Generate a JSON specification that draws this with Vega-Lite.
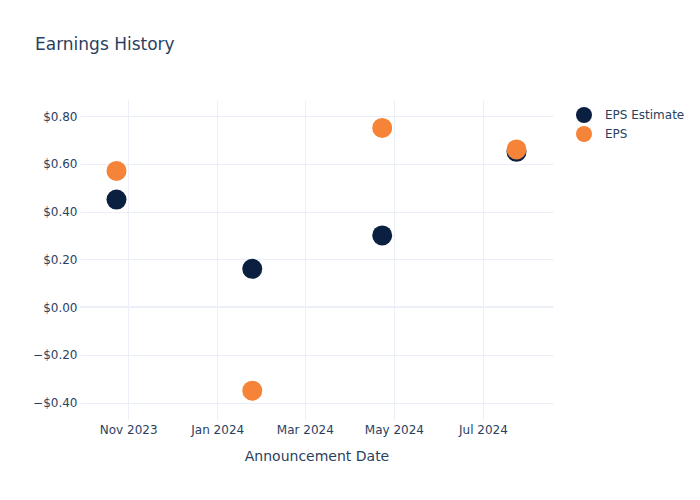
{
  "$schema": "https://vega.github.io/schema/vega-lite/v6.json",
  "autosize": {"type": "none"},
  "width": 473,
  "height": 320,
  "padding": {"left": 80, "top": 100, "right": 147, "bottom": 80},
  "background": "white",
  "config": {
    "font": "DejaVu Sans",
    "view": {"stroke": null},
    "axis": {"labelColor": "#2a3f5f", "titleColor": "#2a3f5f", "labelFontSize": 12, "titleFontSize": 14, "titleFontWeight": "normal", "gridColor": "#EBF0F8", "gridWidth": 1, "gridOpacity": 1, "domain": false, "ticks": false}
  },
  "title": {"text": "Earnings History", "anchor": "start", "frame": "group", "dx": -45, "offset": 46, "fontSize": 17, "fontWeight": "normal", "color": "#2a3f5f"},
  "data": {"values": [
    {"date": "2023-10-24T00:00:00", "series": "EPS Estimate", "value": 0.45},
    {"date": "2024-01-25T00:00:00", "series": "EPS Estimate", "value": 0.16},
    {"date": "2024-04-23T00:00:00", "series": "EPS Estimate", "value": 0.30},
    {"date": "2024-07-24T00:00:00", "series": "EPS Estimate", "value": 0.65},
    {"date": "2023-10-24T00:00:00", "series": "EPS", "value": 0.57},
    {"date": "2024-01-25T00:00:00", "series": "EPS", "value": -0.35},
    {"date": "2024-04-23T00:00:00", "series": "EPS", "value": 0.75},
    {"date": "2024-07-24T00:00:00", "series": "EPS", "value": 0.66}
  ]},
  "layer": [
    {
      "mark": {"type": "rule", "color": "#EBF0F8", "strokeWidth": 2},
      "encoding": {"y": {"datum": 0, "type": "quantitative", "axis": {"grid": true, "format": "$.2f", "values": [-0.4, -0.2, 0, 0.2, 0.4, 0.6, 0.8], "labelPadding": 3}}}
    },
    {
      "mark": {"type": "point", "filled": true, "shape": "circle", "size": 400, "opacity": 1},
      "encoding": {
        "x": {"field": "date", "type": "temporal", "title": "Announcement Date",
          "scale": {"domain": [{"year": 2023, "month": 9, "date": 29}, {"year": 2024, "month": 8, "date": 18}]},
          "axis": {"grid": true, "format": "%b %Y", "labelPadding": 4, "titlePadding": 14, "values": [
            {"year": 2023, "month": 11, "date": 1}, {"year": 2024, "month": 1, "date": 1}, {"year": 2024, "month": 3, "date": 1}, {"year": 2024, "month": 5, "date": 1}, {"year": 2024, "month": 7, "date": 1}]}},
        "y": {"field": "value", "type": "quantitative", "title": null,
          "scale": {"domain": [-0.473, 0.867], "nice": false, "zero": false},
          "axis": {"grid": true, "format": "$.2f", "values": [-0.4, -0.2, 0, 0.2, 0.4, 0.6, 0.8], "labelPadding": 3}},
        "color": {"field": "series", "type": "nominal", "sort": ["EPS Estimate", "EPS"],
          "scale": {"domain": ["EPS Estimate", "EPS"], "range": ["#0b1f41", "#f58439"]},
          "legend": {"title": null, "orient": "none", "legendX": 495, "legendY": 6, "symbolSize": 256, "symbolType": "circle", "labelFontSize": 12, "labelColor": "#2a3f5f", "labelOffset": 12, "rowPadding": 2, "symbolOpacity": 1}}
      }
    }
  ]
}
